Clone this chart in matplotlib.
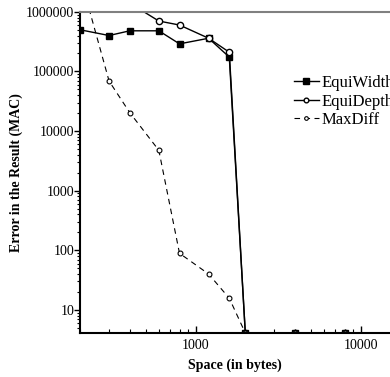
import matplotlib
matplotlib.use("Agg")
import matplotlib.pyplot as plt
from matplotlib.ticker import LogLocator, NullFormatter, FixedLocator, FuncFormatter

plt.rcParams['font.family'] = ['Liberation Serif', 'DejaVu Serif']

# values
space = [200, 300, 400, 600, 800, 1200, 1600, 2000, 4000, 8000]
equi_width = [500000, 400000, 480000, 480000, 290000, 360000, 174000, 4.1, 4.1, 4.1]
equi_depth = [4000000, 2500000, 1400000, 700000, 600000, 360000, 210000, 4.1, 4.1, 4.1]
max_diff = [4000000, 69000, 20400, 4750, 89, 40, 15.7, 4.1, 4.1, 4.1]

y_ticks = [10, 100, 1000, 10000, 100000, 1000000]
x_ticks = [1000, 10000]

fig = plt.figure(figsize=(3.9, 3.77), dpi=100)
ax = fig.add_axes([0.205, 0.1167, 0.795, 0.852])

ax.plot(space, equi_width, color='black', lw=1.0, marker='s', ms=5,
        mfc='black', mec='black', label='EquiWidth')
ax.plot(space, equi_depth, color='black', lw=1.0, marker='o', ms=4.5,
        mfc='white', mec='black', label='EquiDepth')
ax.plot(space, max_diff, color='black', lw=0.8, ls=(0, (5, 4)), marker='o', ms=3.5,
        mfc='white', mec='black', mew=0.8, label='MaxDiff')

ax.set_xscale('log')
ax.set_yscale('log')
ax.set_xlim(200, 15000)
ax.set_ylim(4.1, 1000000)

int_fmt = FuncFormatter(lambda v, p: f'{int(v)}')
ax.yaxis.set_major_locator(FixedLocator(y_ticks))
ax.yaxis.set_major_formatter(int_fmt)
ax.yaxis.set_minor_locator(LogLocator(base=10, subs=range(2, 10)))
ax.yaxis.set_minor_formatter(NullFormatter())
ax.xaxis.set_major_locator(FixedLocator(x_ticks))
ax.xaxis.set_major_formatter(int_fmt)
ax.xaxis.set_minor_locator(LogLocator(base=10, subs=range(2, 10)))
ax.xaxis.set_minor_formatter(NullFormatter())

ax.tick_params(axis='y', which='major', direction='out', length=4, width=1, labelsize=10, pad=0)
ax.tick_params(axis='y', which='minor', direction='out', length=2.5, width=0.8)
ax.tick_params(axis='x', which='major', direction='in', length=5, width=1, labelsize=10, pad=4)
ax.tick_params(axis='x', which='minor', direction='in', length=3, width=0.8)

ax.spines['right'].set_visible(False)
ax.spines['top'].set_color('#808080')
ax.spines['top'].set_linewidth(1.5)
ax.spines['left'].set_linewidth(1.5)
ax.spines['bottom'].set_linewidth(1.5)

ax.set_xlabel('Space (in bytes)', fontsize=10, fontweight='bold', labelpad=5)
ax.set_ylabel('Error in the Result (MAC)', fontsize=10, fontweight='bold')
ax.yaxis.set_label_coords(-0.184, 0.5)

ax.legend(loc='center left', bbox_to_anchor=(0.69, 0.72), frameon=False, fontsize=12,
          handlelength=1.5, handletextpad=0.15, labelspacing=0.15, borderaxespad=0,
          borderpad=0, markerscale=0.75)

fig.savefig('out.png', dpi=100)
